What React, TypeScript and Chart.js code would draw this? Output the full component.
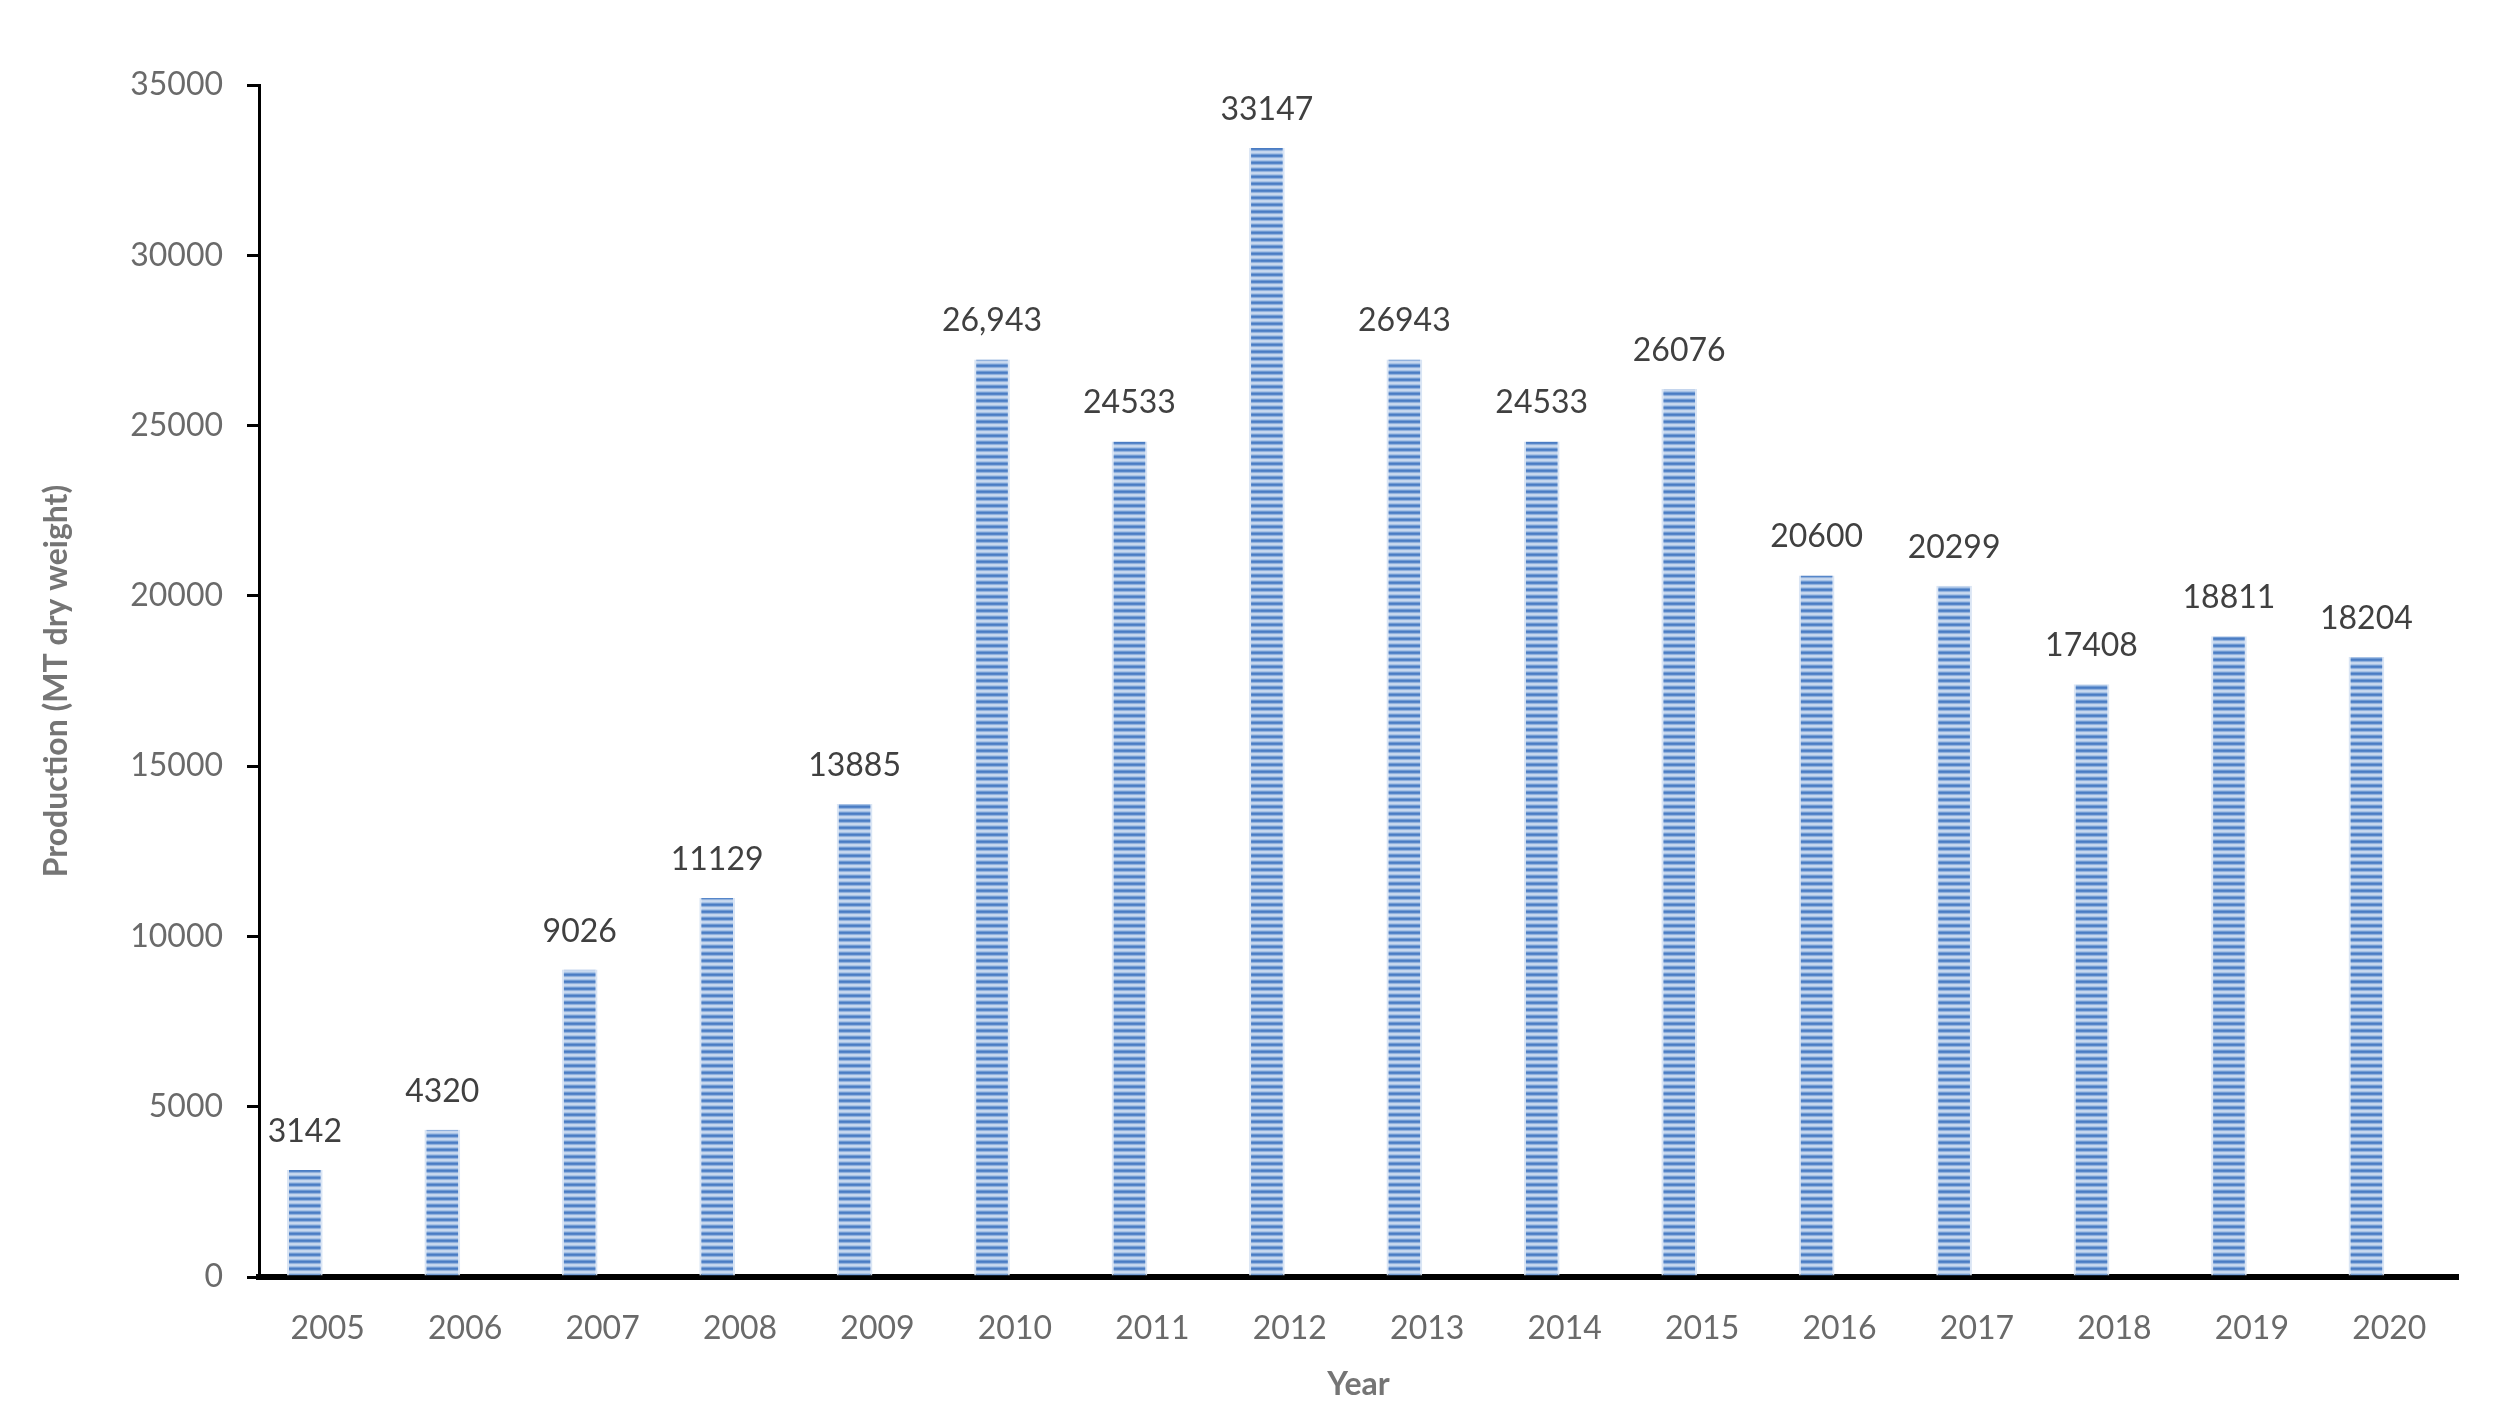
import { useEffect, useRef, JSX } from 'react';
import { Chart, registerables, Plugin } from 'chart.js';

Chart.register(...registerables);

// Production by year
const years: string[] = ['2005', '2006', '2007', '2008', '2009', '2010', '2011', '2012',
    '2013', '2014', '2015', '2016', '2017', '2018', '2019', '2020'];
const production: number[] = [3142, 4320, 9026, 11129, 13885, 26943, 24533, 33147,
    26943, 24533, 26076, 20600, 20299, 17408, 18811, 18204];
const valueLabels: string[] = ['3142', '4320', '9026', '11129', '13885', '26,943', '24533', '33147',
    '26943', '24533', '26076', '20600', '20299', '17408', '18811', '18204'];

const FONT = 'Lato';
const TICK_COLOR = '#6a6a6a';
const TITLE_COLOR = '#757575';
const LABEL_COLOR = '#404040';

// horizontal stripes like the excel fill
function makeStripes(ctx: CanvasRenderingContext2D): CanvasPattern | string {
    const c = document.createElement('canvas');
    c.width = 8;
    c.height = 7;
    const p = c.getContext('2d');
    if (!p) return '#5b8bd0';
    const rows = ['#4a7cc3', '#5686c9', '#91b1dd', '#c4d5ed', '#c8d9ef', '#a9c3e6', '#719bd3'];
    rows.forEach((col, i) => {
        p.fillStyle = col;
        p.fillRect(0, i, 8, 1);
    });
    return ctx.createPattern(c, 'repeat') || '#5b8bd0';
}

const valueLabelPlugin: Plugin = {
    id: 'valueLabels',
    afterDatasetsDraw(chart) {
        const { ctx } = chart;
        const meta = chart.getDatasetMeta(0);
        ctx.save();
        ctx.font = `32px ${FONT}`;
        ctx.fillStyle = LABEL_COLOR;
        ctx.textAlign = 'center';
        ctx.textBaseline = 'alphabetic';
        meta.data.forEach((bar, i) => {
            ctx.fillText(valueLabels[i], bar.x, bar.y - 28);
        });
        ctx.restore();
    }
};

export default function App(): JSX.Element {
    const canvasRef = useRef<HTMLCanvasElement | null>(null);
    const chartRef = useRef<Chart | null>(null);

    useEffect(() => {
        if (!canvasRef.current) return;
        const ctx = canvasRef.current.getContext('2d');
        if (!ctx) return;
        if (chartRef.current) chartRef.current.destroy();

        const stripes = makeStripes(ctx);

        chartRef.current = new Chart(ctx, {
            type: 'bar',
            data: {
                labels: years,
                datasets: [
                    {
                        label: 'Production',
                        data: production,
                        backgroundColor: stripes,
                        borderColor: 'rgba(214, 226, 243, 0.9)',
                        borderWidth: { left: 2, right: 2, top: 0, bottom: 0 },
                        borderSkipped: false,
                        categoryPercentage: 0.666,
                        barPercentage: 0.78
                    },
                    {
                        // empty second series, keeps the bars left of the year label
                        label: '',
                        data: [],
                        categoryPercentage: 0.666,
                        barPercentage: 0.78
                    }
                ]
            },
            options: {
                responsive: true,
                maintainAspectRatio: false,
                animation: false,
                layout: {
                    padding: { left: 25, right: 30, top: 77, bottom: 2 }
                },
                plugins: {
                    legend: { display: false },
                    tooltip: { enabled: false }
                },
                scales: {
                    x: {
                        afterFit: (scale) => { scale.height = 131; },
                        grid: { display: true, drawOnChartArea: false, drawTicks: false },
                        border: { display: true, color: '#000000', width: 6 },
                        ticks: {
                            color: TICK_COLOR,
                            padding: 32,
                            font: { family: FONT, size: 32 }
                        },
                        title: {
                            display: true,
                            text: 'Year',
                            color: TITLE_COLOR,
                            font: { family: FONT, size: 32, weight: 'bold' }
                        }
                    },
                    y: {
                        min: 0,
                        max: 35000,
                        afterFit: (scale) => { scale.width = 226; },
                        grid: {
                            drawOnChartArea: false,
                            drawTicks: true,
                            tickLength: 12,
                            color: '#000000',
                            lineWidth: 3
                        },
                        border: { display: true, color: '#000000', width: 3 },
                        ticks: {
                            stepSize: 5000,
                            color: TICK_COLOR,
                            padding: 24,
                            font: { family: FONT, size: 32 },
                            callback: (v) => String(v)
                        },
                        title: {
                            display: true,
                            text: 'Production (MT dry weight)',
                            color: TITLE_COLOR,
                            font: { family: FONT, size: 32, weight: 'bold' }
                        }
                    }
                }
            },
            plugins: [valueLabelPlugin]
        });

        return () => {
            if (chartRef.current) {
                chartRef.current.destroy();
                chartRef.current = null;
            }
        };
    }, []);

    return (
        <div style={{ position: 'relative', width: '2480px', height: '1402px', background: '#ffffff' }}>
            <canvas ref={canvasRef} />
        </div>
    );
}
